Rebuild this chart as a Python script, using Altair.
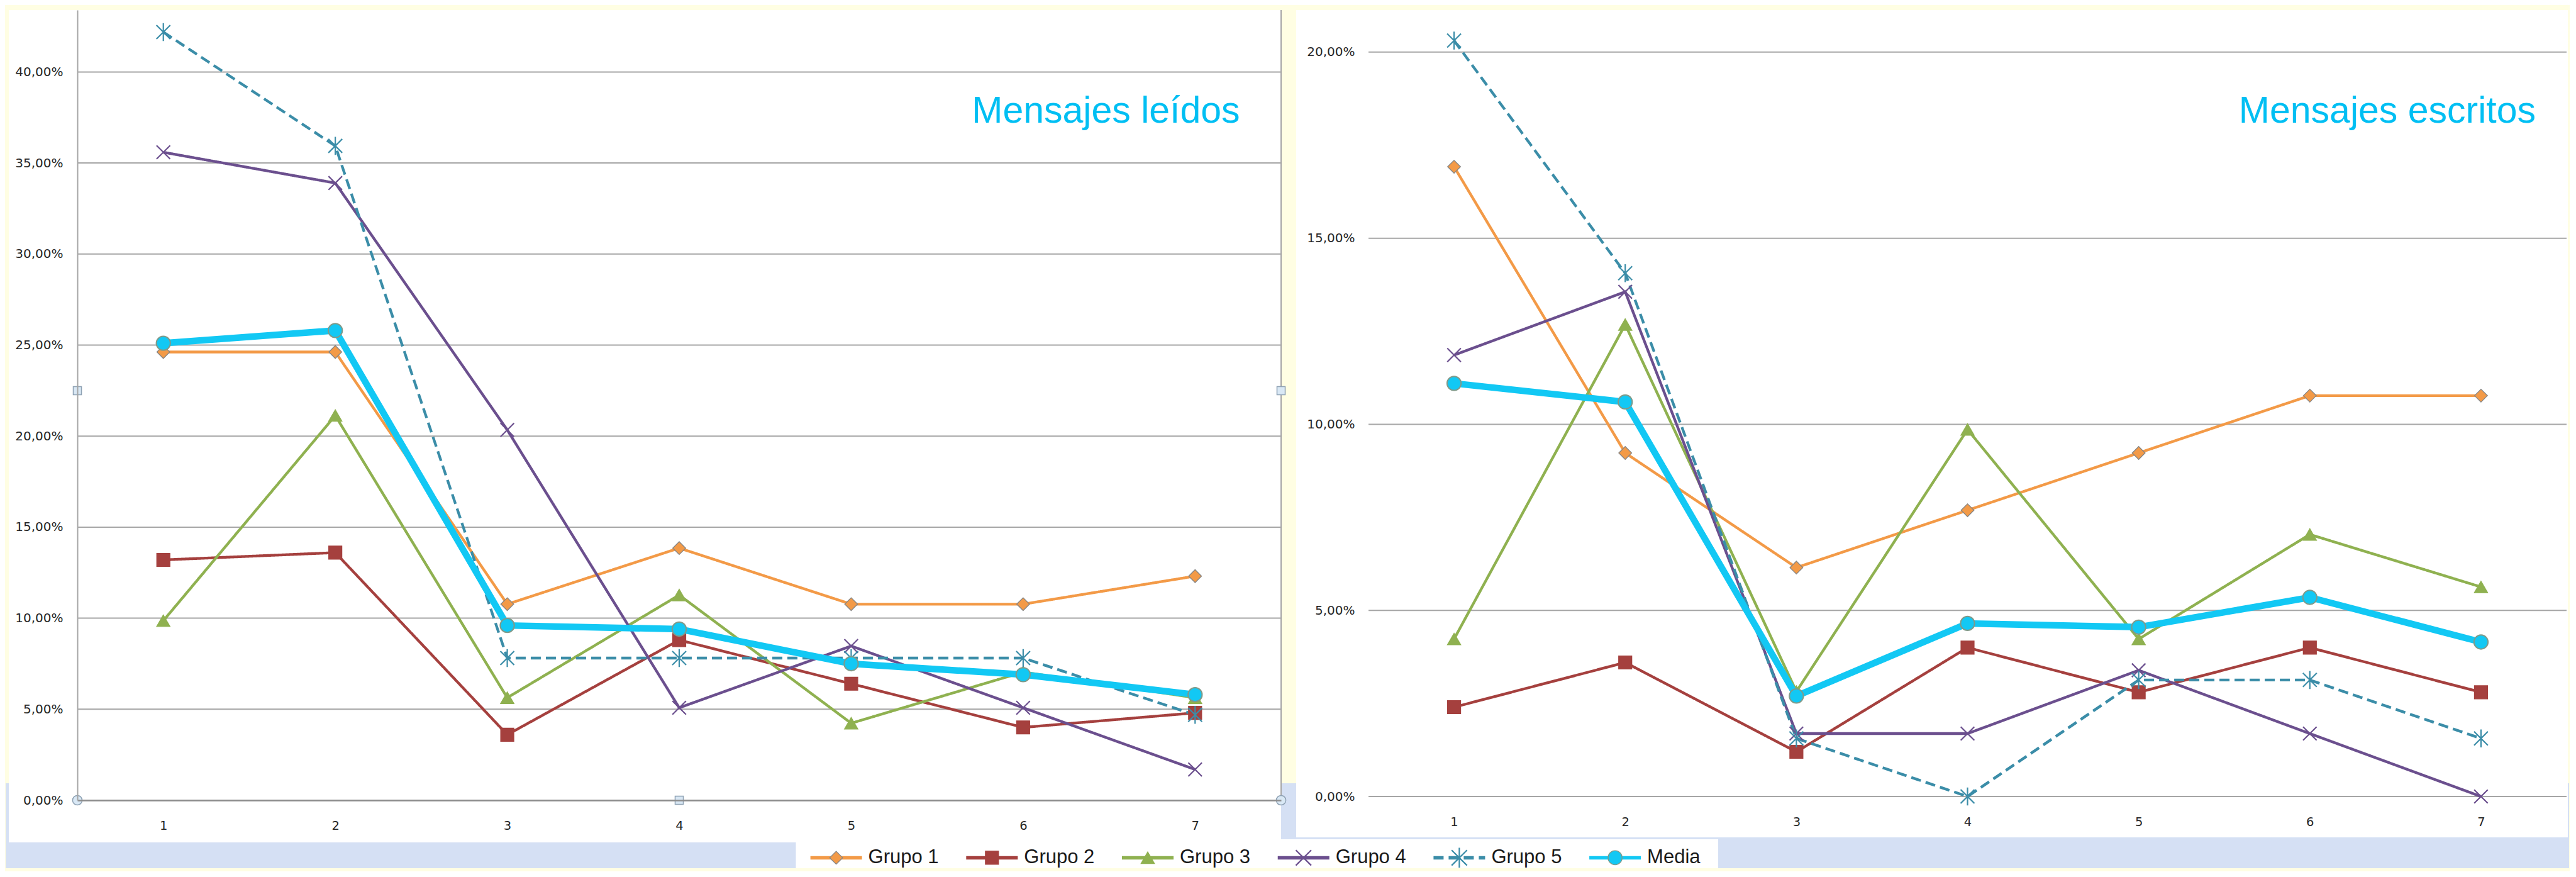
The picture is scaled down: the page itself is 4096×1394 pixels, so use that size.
import altair as alt
import pandas as pd

# ---------------- data ----------------
categorias = [1, 2, 3, 4, 5, 6, 7]
series = ["Grupo 1", "Grupo 2", "Grupo 3", "Grupo 4", "Grupo 5", "Media"]

# Mensajes leídos (%)
leidos_grupo1 = [24.62, 24.62, 10.77, 13.85, 10.77, 10.77, 12.31]
leidos_grupo2 = [13.2, 13.6, 3.6, 8.8, 6.4, 4.0, 4.8]
leidos_grupo3 = [9.86, 21.13, 5.63, 11.27, 4.23, 7.04, 5.63]
leidos_grupo4 = [35.59, 33.9, 20.34, 5.08, 8.47, 5.08, 1.69]
leidos_grupo5 = [42.19, 35.94, 7.81, 7.81, 7.81, 7.81, 4.69]
leidos_media = [25.1, 25.8, 9.6, 9.4, 7.5, 6.9, 5.8]

# Mensajes escritos (%)
escritos_grupo1 = [16.92, 9.23, 6.15, 7.69, 9.23, 10.77, 10.77]
escritos_grupo2 = [2.4, 3.6, 1.2, 4.0, 2.8, 4.0, 2.8]
escritos_grupo3 = [4.23, 12.68, 2.82, 9.86, 4.23, 7.04, 5.63]
escritos_grupo4 = [11.86, 13.56, 1.69, 1.69, 3.39, 1.69, 0.0]
escritos_grupo5 = [20.31, 14.06, 1.56, 0.0, 3.13, 3.13, 1.56]
escritos_media = [11.1, 10.6, 2.7, 4.65, 4.55, 5.35, 4.15]

ticks_leidos = [0, 5, 10, 15, 20, 25, 30, 35, 40]
ticks_escritos = [0, 5, 10, 15, 20]

titulo_izq = "Mensajes leídos"
titulo_der = "Mensajes escritos"

# ---------------- styles ----------------
colores_linea = ["#F39A47", "#A5403E", "#8FB150", "#6B4F8E", "#3B8DA8", "#12C8F4"]
colores_relleno = ["#F39A47", "#A5403E", "#8FB150", "#6B4F8E", "#3B8DA8", "#12C8F4"]
colores_borde = ["#858585", "#A5403E", "#8FB150", "#6B4F8E", "#3B8DA8", "#7F9A8A"]
formas = ["diamond", "square", "triangle-up",
          "M-1,-1L1,1M-1,1L1,-1",
          "M-1,-1L1,1M-1,1L1,-1M0,-1.3L0,1.3",
          "circle"]
tamanos = [420, 500, 480, 400, 400, 1300]
guiones = [[1, 0], [1, 0], [1, 0], [1, 0], [16, 8], [1, 0]]
grosores_leyenda = [5.5, 5.5, 5.5, 5.5, 5, 9.5]

YELLOW = "#FFFEE3"
BLUE = "#D5E0F4"
GRID = "#A6A6A6"
LABEL = "#262626"
TITLE_COLOR = "#00BFF3"

W1, H1 = 1914, 1256
W2, H2 = 1905, 1250


def to_long(cols):
    rows = []
    for s, vals in zip(series, cols):
        for c, v in zip(categorias, vals):
            rows.append({"serie": s, "x": c, "valor": v})
    return pd.DataFrame(rows)


df_leidos = to_long([leidos_grupo1, leidos_grupo2, leidos_grupo3,
                     leidos_grupo4, leidos_grupo5, leidos_media])
df_escritos = to_long([escritos_grupo1, escritos_grupo2, escritos_grupo3,
                       escritos_grupo4, escritos_grupo5, escritos_media])
one = pd.DataFrame({"k": [0]})
df_series = pd.DataFrame({"serie": series})

color_enc = alt.Color("serie:N", scale=alt.Scale(domain=series, range=colores_linea), legend=None)
fill_enc = alt.Fill("serie:N", scale=alt.Scale(domain=series, range=colores_relleno), legend=None)
stroke_enc = alt.Stroke("serie:N", scale=alt.Scale(domain=series, range=colores_borde), legend=None)
shape_enc = alt.Shape("serie:N", scale=alt.Scale(domain=series, range=formas), legend=None)
size_enc = alt.Size("serie:O", sort=series, scale=alt.Scale(domain=series, range=tamanos), legend=None)
dash_enc = alt.StrokeDash("serie:N", scale=alt.Scale(domain=series, range=guiones), legend=None)

LABEL_EXPR = "replace(format(datum.value, '.2f'), '.', ',') + '%'"


def rect(x, x2, y, y2, color):
    return alt.Chart(one).mark_rect(color=color).encode(
        x=alt.value(x), x2=alt.value(x2), y=alt.value(y), y2=alt.value(y2))


def handle(x, y, shape, size):
    return alt.Chart(one).mark_point(
        shape=shape, size=size, filled=True, fill="#D9E8F5", stroke="#8FA2B4",
        strokeWidth=1.5, opacity=1).encode(x=alt.value(x), y=alt.value(y))


def data_layers(df, dmax, ticks, ydomain, xdomain, lab_pad):
    x_enc = alt.X("x:O", scale=alt.Scale(type="point", padding=0.5, domain=categorias),
                  axis=alt.Axis(labelAngle=0, ticks=False, tickSize=0, grid=False,
                                domain=xdomain, domainColor="#8C8C8C", domainWidth=2.5,
                                labelPadding=40, labelBaseline="middle",
                                labelFont="DejaVu Sans", labelFontSize=19.5,
                                labelColor=LABEL, title=None, zindex=1))
    y_enc = alt.Y("valor:Q", scale=alt.Scale(domain=[0, dmax], nice=False, zero=False),
                  axis=alt.Axis(values=ticks, labelExpr=LABEL_EXPR, grid=False,
                                domain=ydomain, domainColor=GRID, domainWidth=2,
                                ticks=False, tickSize=0,
                                labelPadding=lab_pad, labelFont="DejaVu Sans",
                                labelFontSize=20, labelColor=LABEL, title=None, zindex=1))
    grid = alt.Chart(pd.DataFrame({"valor": ticks})).mark_rule(
        color=GRID, strokeWidth=2).encode(y=y_enc)
    base = alt.Chart(df).encode(x=x_enc, y=y_enc)
    grupos = series[:5]
    lines = base.transform_filter(alt.FieldOneOfPredicate(field="serie", oneOf=grupos)).mark_line(
        strokeWidth=4.3).encode(color=color_enc, strokeDash=dash_enc)
    pts_f = base.transform_filter(alt.FieldOneOfPredicate(field="serie", oneOf=series[:3])).mark_point(
        filled=True, strokeWidth=1.3, opacity=1).encode(shape=shape_enc, fill=fill_enc,
                                                        stroke=stroke_enc, size=size_enc)
    pts_s = base.transform_filter(alt.FieldOneOfPredicate(field="serie", oneOf=series[3:5])).mark_point(
        filled=False, strokeWidth=2.2, opacity=1).encode(shape=shape_enc, stroke=stroke_enc,
                                                         size=size_enc)
    m_line = base.transform_filter(alt.datum.serie == "Media").mark_line(
        strokeWidth=10.5).encode(color=color_enc)
    m_pts = base.transform_filter(alt.datum.serie == "Media").mark_point(
        filled=True, strokeWidth=2, opacity=1).encode(shape=shape_enc, fill=fill_enc,
                                                      stroke=stroke_enc, size=size_enc)
    return [grid, lines, pts_f, pts_s, m_line, m_pts]


def title_text(x, y, txt):
    return alt.Chart(one).mark_text(
        align="right", baseline="alphabetic", font="Liberation Sans", fontSize=59,
        color=TITLE_COLOR).encode(x=alt.value(x), y=alt.value(y), text=alt.value(txt))


# ---------------- left panel ----------------
frame_rule = alt.Chart(one).mark_rule(color=GRID, strokeWidth=2).encode(
    x=alt.value(W1), y=alt.value(0), y2=alt.value(H1))

left_main = alt.layer(
    rect(-114, 3962, 1229, 1364, BLUE),
    rect(-109, W1, 0, 1323, "white"),
    rect(1142.5, 2609, 1318, 1364, "white"),
    frame_rule,
    *data_layers(df_leidos, 43.4, ticks_leidos, True, True, 23),
    handle(0, H1, "circle", 230),
    handle(W1, H1, "circle", 230),
    handle(0, 605, "square", 170),
    handle(W1, 605, "square", 170),
    handle(W1 / 2, H1, "square", 170),
    title_text(W1 - 65.4, 178.9, titulo_izq),
)

# legend drawn from the series list through a point scale
leg_x = alt.X("serie:N", scale=alt.Scale(type="point", domain=series, range=[1165.6, 2404.1], padding=0),
              axis=None)
leg_y = 1347.4
leg_base = alt.Chart(df_series).encode(x=leg_x)
leg_rule = leg_base.mark_rule(x2Offset=82).encode(
    x2=alt.X2("serie:N"), y=alt.value(leg_y), color=color_enc, strokeDash=dash_enc,
    strokeWidth=alt.StrokeWidth("serie:O", sort=series,
                                scale=alt.Scale(domain=series, range=grosores_leyenda), legend=None))
leg_pf = leg_base.transform_filter(
    alt.FieldOneOfPredicate(field="serie", oneOf=["Grupo 1", "Grupo 2", "Grupo 3", "Media"])).mark_point(
    xOffset=41, filled=True, strokeWidth=1.3, opacity=1).encode(
    y=alt.value(leg_y), shape=shape_enc, fill=fill_enc, stroke=stroke_enc, size=size_enc)
leg_ps = leg_base.transform_filter(
    alt.FieldOneOfPredicate(field="serie", oneOf=["Grupo 4", "Grupo 5"])).mark_point(
    xOffset=41, filled=False, strokeWidth=2.2, opacity=1).encode(
    y=alt.value(leg_y), shape=shape_enc, stroke=stroke_enc, size=alt.value(600))
leg_txt = leg_base.mark_text(align="left", baseline="middle", dx=92, font="Liberation Sans",
                             fontSize=31, color="#1A1A1A").encode(y=alt.value(leg_y), text="serie:N")
legend_part = alt.layer(leg_rule, leg_pf, leg_ps, leg_txt)

left = alt.layer(left_main, legend_part).resolve_scale(x="independent").properties(
    width=W1, height=H1)

# ---------------- right panel ----------------
right = alt.layer(
    rect(-115, W2 + 2, 0, 1315, "white"),
    *data_layers(df_escritos, 21.13, ticks_escritos, False, False, 22),
    title_text(W2 - 49, 178.9, titulo_der),
).properties(width=W2, height=H2)

chart = alt.hconcat(left, right, spacing=139, bounds="flush").properties(
    background=YELLOW,
    padding={"left": 0, "top": 6, "right": 0, "bottom": 0},
).configure_view(stroke="transparent")

chart.save("out.html", embed_options={"renderer": "svg", "actions": False})
